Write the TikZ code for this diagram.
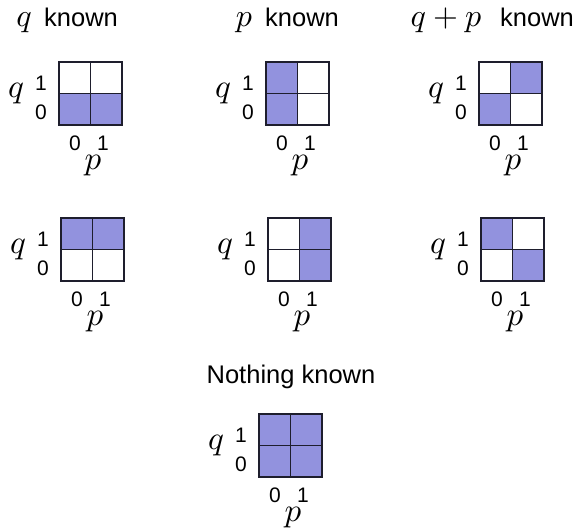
\documentclass[tikz,border=0pt]{standalone}
\usepackage{graphicx}
\usepackage{fontspec}
\setmainfont{Liberation Sans}
\definecolor{cellblue}{RGB}{146,146,222}
\definecolor{gridline}{RGB}{30,30,45}
\newcommand\mathbig[2]{\scalebox{#1}{\fontsize{10}{12}\selectfont$#2$}}
\tikzset{
  on/.style={fill=cellblue},
  off/.style={fill=white},
  gline/.style={draw=gridline,line width=1.5pt},
  digit/.style={inner sep=0pt,font=\fontsize{21}{21}\selectfont},
  mvar/.style={inner sep=0pt},
  title/.style={inner sep=0pt,font=\fontsize{25.5}{25.5}\selectfont},
  tmath/.style={inner sep=0pt},
}
% #1 name, #2 x0, #3 y0, #4 q1p0, #5 q1p1, #6 q0p0, #7 q0p1
\newcommand\kgrid[7]{%
  \begin{scope}[shift={(#2,#3)}]
    \path[#4] (0,0) rectangle (31.5,31.5);
    \path[#5] (31.5,0) rectangle (63,31.5);
    \path[#6] (0,31.5) rectangle (31.5,63);
    \path[#7] (31.5,31.5) rectangle (63,63);
    \draw[gline] (0,0) rectangle (63,63);
    \draw[gline] (31.5,0) -- (31.5,63);
    \draw[gline] (0,31.5) -- (63,31.5);
    \node[mvar] (#1q) at (-43,32) {\mathbig{3.3}{q}};
    \node[digit] (#1qa) at (-18,21) {1};
    \node[digit] (#1qb) at (-18,50) {0};
    \node[digit] (#1pa) at (16,81) {0};
    \node[digit] (#1pb) at (44,81) {1};
    \node[mvar] (#1p) at (34,104) {\mathbig{3.3}{p}};
  \end{scope}}
\begin{document}
\begin{tikzpicture}[x=1pt,y=-1pt]
  \useasboundingbox (0,0) rectangle (575,531);
  % titles
  \node[tmath,anchor=base] (t1m) at (24,26) {\mathbig{3.2}{q}};
  \node[title,anchor=base west] (t1) at (44,26) {known};
  \node[tmath,anchor=base] (t2m) at (244,26) {\mathbig{3.2}{p}};
  \node[title,anchor=base west] (t2) at (265,26) {known};
  \node[tmath,anchor=base] (t3m) at (446,26) {\mathbig{3.2}{q+p}};
  \node[title,anchor=base west] (t3) at (500,26) {known};
  \node[title,anchor=base] (t4) at (291,383) {Nothing known};
  % grids
  \kgrid{a}{59}{62}{off}{off}{on}{on}
  \kgrid{b}{266}{62}{on}{off}{on}{off}
  \kgrid{c}{479}{62}{off}{on}{on}{off}
  \kgrid{d}{61}{218}{on}{on}{off}{off}
  \kgrid{e}{268}{218}{off}{on}{off}{on}
  \kgrid{f}{481}{218}{on}{off}{off}{on}
  \kgrid{g}{259}{414}{on}{on}{on}{on}
\end{tikzpicture}
\end{document}
